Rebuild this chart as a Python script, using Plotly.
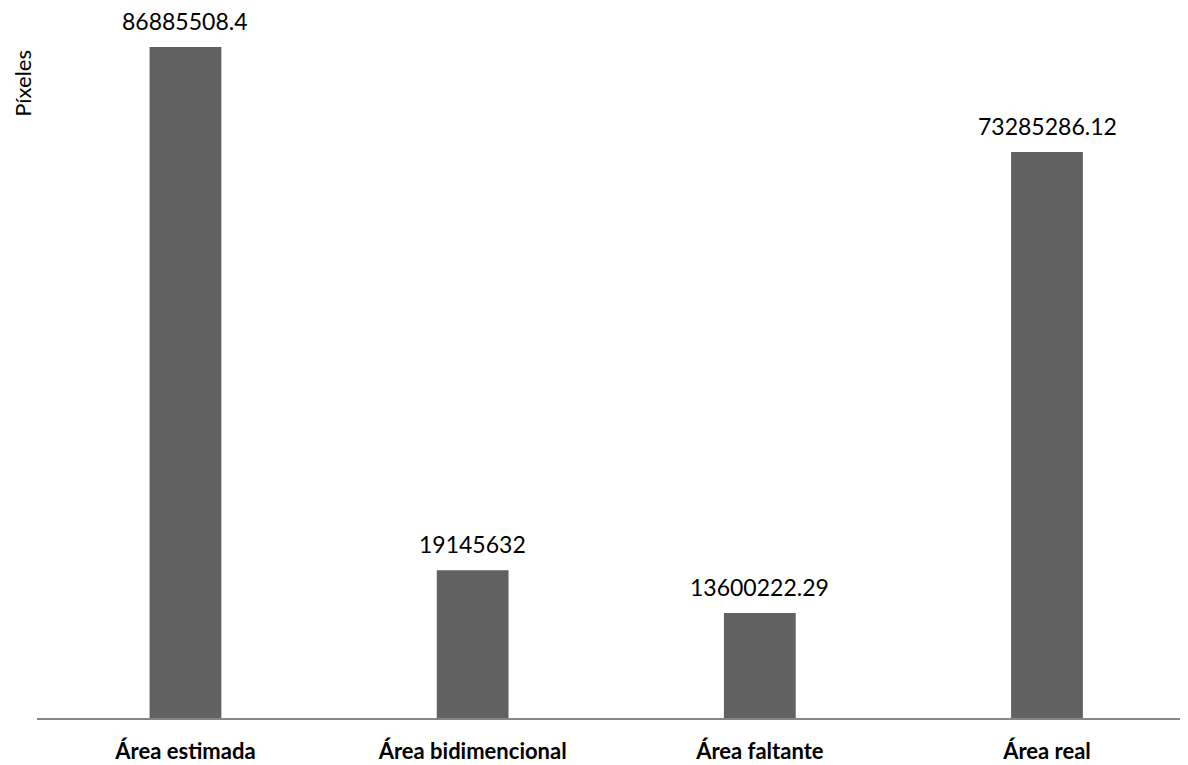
import plotly.graph_objects as go

categories = ["Área estimada", "Área bidimencional", "Área faltante", "Área real"]
values = [86885508.4, 19145632, 13600222.29, 73285286.12]
value_labels = ["86885508.4", "19145632", "13600222.29", "73285286.12"]

FONT = "Lato"
BAR_COLOR = "#616161"

fig = go.Figure()
fig.add_trace(go.Bar(
    x=categories,
    y=values,
    width=0.25,
    marker=dict(color=BAR_COLOR, line=dict(width=0)),
    hoverinfo="x+y",
))

for c, v, t in zip(categories, values, value_labels):
    fig.add_annotation(
        x=c, y=v, text=t, showarrow=False, yshift=26, borderpad=0,
        font=dict(family=FONT, size=23, color="#000000"),
        xanchor="center", yanchor="middle",
    )

fig.add_annotation(
    xref="paper", yref="paper", x=-0.0125, y=0.894,
    text="Píxeles", textangle=-90, showarrow=False, borderpad=0,
    font=dict(family=FONT, size=22, color="#000000"),
    xanchor="center", yanchor="middle",
)

ymax = 86885508.4 * 710 / 671

fig.update_layout(
    width=1180, height=757,
    margin=dict(l=29, r=0, t=0, b=47),
    paper_bgcolor="white", plot_bgcolor="white",
    showlegend=False,
    xaxis=dict(
        type="category",
        range=[-0.517, 3.491],
        showline=True, linecolor="#868686", linewidth=2,
        showgrid=False, zeroline=False, ticks="",
        tickfont=dict(family=FONT, size=22, color="#000000", weight="bold"),
        ticklabelstandoff=13,
    ),
    yaxis=dict(
        range=[0, ymax],
        showline=False, showgrid=False, zeroline=False,
        showticklabels=False, ticks="",
    ),
)

fig.write_html("out.html")
